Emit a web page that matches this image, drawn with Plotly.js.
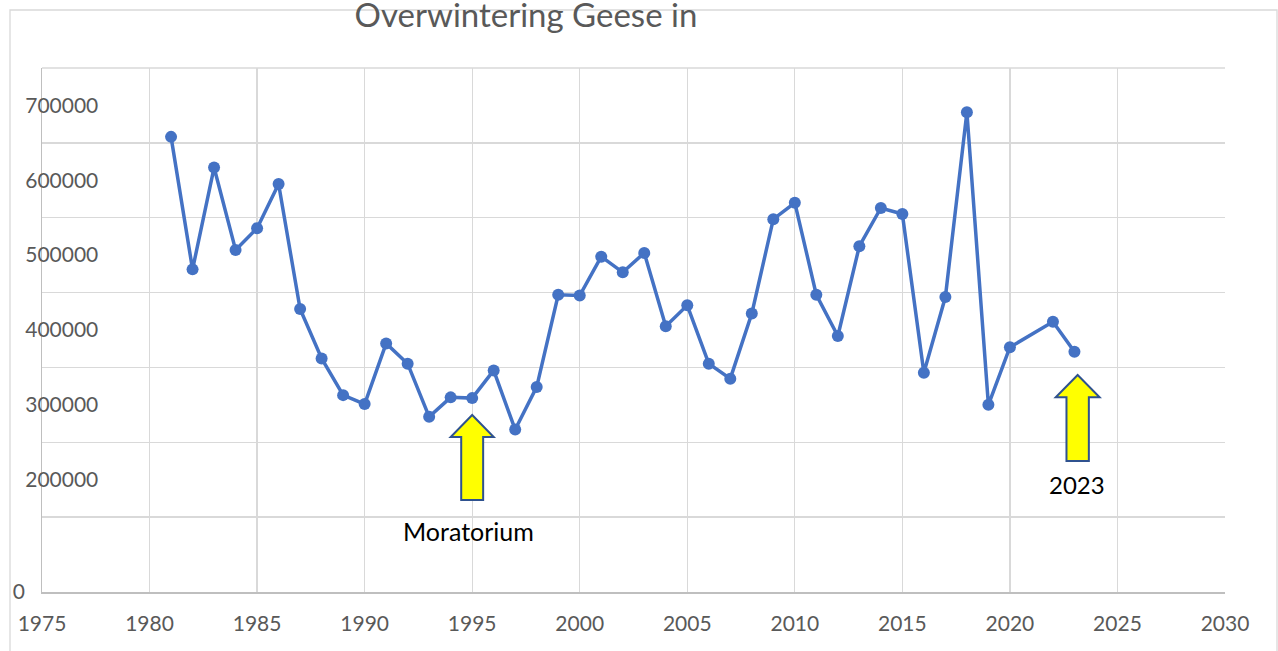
<!DOCTYPE html>
<html>
<head>
<meta charset="utf-8">
<script src="https://cdn.plot.ly/plotly-3.0.1.min.js"></script>
<style>html,body{margin:0;padding:0;background:#fff;}#chart{width:1278px;height:651px;}</style>
</head>
<body>
<div id="chart"></div>
<script>
// ---- data ----
const years = [1981,1982,1983,1984,1985,1986,1987,1988,1989,1990,
               1991,1992,1993,1994,1995,1996,1997,1998,1999,2000,
               2001,2002,2003,2004,2005,2006,2007,2008,2009,2010,
               2011,2012,2013,2014,2015,2016,2017,2018,2019,2020,
               2022,2023];
const geese = [658000,481000,617000,507000,536000,595000,428000,362000,313000,301000,
               382000,355000,284000,310000,309000,346000,267000,324000,447000,446000,
               498000,477000,503000,405000,433000,355000,335000,422000,548000,570000,
               447000,392000,512000,563000,555000,343000,444000,691000,300000,377000,
               411000,371000];
const yTickVals = [50000,200000,300000,400000,500000,600000,700000];
const yTickText = ["0","200000","300000","400000","500000","600000","700000"];
const xTickVals = [1975,1980,1985,1990,1995,2000,2005,2010,2015,2020,2025,2030];
const titleText = "Overwintering Geese in";
const notes = [{year:1995, label:"Moratorium"},{year:2023, label:"2023"}];

// ---- layout helpers ----
const W = 1278, H = 651;
const plotRight = 1225;
const FONT = "Lato, 'Open Sans', sans-serif";
const yRange = [50000, 750000];
// the "0" label sits far to the left of the other labels: pad it with fixed-width spaces
const zeroPad = "\u2003\u2003\u2003\u2002\u2002\u2009\u2009";
const yTickTextShown = yTickText.map(t => t === "0" ? t + zeroPad : t);

function blockArrow(xc, yTip, yHead, yBottom, headHalf, shaftHalf){
  return {
    type:'path', xref:'x', yref:'y', layer:'above',
    path: `M ${xc} ${yTip} L ${xc+headHalf} ${yHead} L ${xc+shaftHalf} ${yHead} L ${xc+shaftHalf} ${yBottom} L ${xc-shaftHalf} ${yBottom} L ${xc-shaftHalf} ${yHead} L ${xc-headHalf} ${yHead} Z`,
    fillcolor:'#FFFF00', line:{color:'#2F528F', width:2}
  };
}

const trace = {
  x: years, y: geese, type:'scatter', mode:'lines+markers',
  line:{color:'#4472C4', width:3.5},
  marker:{color:'#4472C4', size:12},
  hoverinfo:'x+y'
};

const layout = {
  width: W, height: H,
  margin:{l:0, r:W-plotRight, t:68, b:59, pad:0},
  paper_bgcolor:'#fff', plot_bgcolor:'#fff',
  showlegend:false,
  font:{family:FONT, color:'#595959'},
  title:{text:titleText, font:{family:FONT, size:33, color:'#595959'},
         xref:'container', x:526/W, xanchor:'center',
         yref:'container', y:1-15/H, yanchor:'middle'},
  xaxis:{
    domain:[42/plotRight, 1], range:[1975,2030],
    tickmode:'array', tickvals:xTickVals,
    showgrid:true, gridcolor:'#d9d9d9', gridwidth:1.3,
    showline:true, linecolor:'#bfbfbf', linewidth:1.5,
    zeroline:false, ticks:'', ticklabelstandoff:12,
    tickfont:{family:FONT, size:21, color:'#595959'}
  },
  yaxis:{
    range:yRange, tickmode:'array', tickvals:yTickVals, ticktext:yTickTextShown,
    showgrid:false,
    minor:{tick0:50000, dtick:100000, showgrid:true, gridcolor:'#d9d9d9', gridwidth:1.3, ticks:''},
    showline:true, linecolor:'#bfbfbf', linewidth:1.5, zeroline:false, ticks:'',
    ticklabelstandoff:-62,
    tickfont:{family:FONT, size:21, color:'#595959'}
  },
  shapes:[
    // outer chart frame
    {type:'rect', xref:'paper', yref:'paper', layer:'below',
     x0:10/plotRight, x1:1277/plotRight, y0:(592-660)/524, y1:(592-10)/524,
     line:{color:'#d9d9d9', width:1.3}, fillcolor:'rgba(0,0,0,0)'},
    // top edge of plot area
    {type:'line', xref:'x domain', yref:'y domain', layer:'below',
     x0:0, x1:1, y0:1, y1:1, line:{color:'#d9d9d9', width:1.3}},
    blockArrow(1995.0, 286400, 257000, 172900, 1.0, 0.51),
    blockArrow(2023.15, 339900, 310100, 225000, 1.02, 0.52)
  ],
  annotations:[
    {x:1994.82, y:131500, xref:'x', yref:'y', text:notes[0].label, showarrow:false,
     font:{family:FONT, size:25, color:'#000'}, xanchor:'center', yanchor:'middle'},
    {x:2023.11, y:194200, xref:'x', yref:'y', text:notes[1].label, showarrow:false,
     font:{family:FONT, size:24, color:'#000'}, xanchor:'center', yanchor:'middle'}
  ]
};

Plotly.newPlot('chart', [trace], layout, {displayModeBar:false, staticPlot:true});
</script>
</body>
</html>
